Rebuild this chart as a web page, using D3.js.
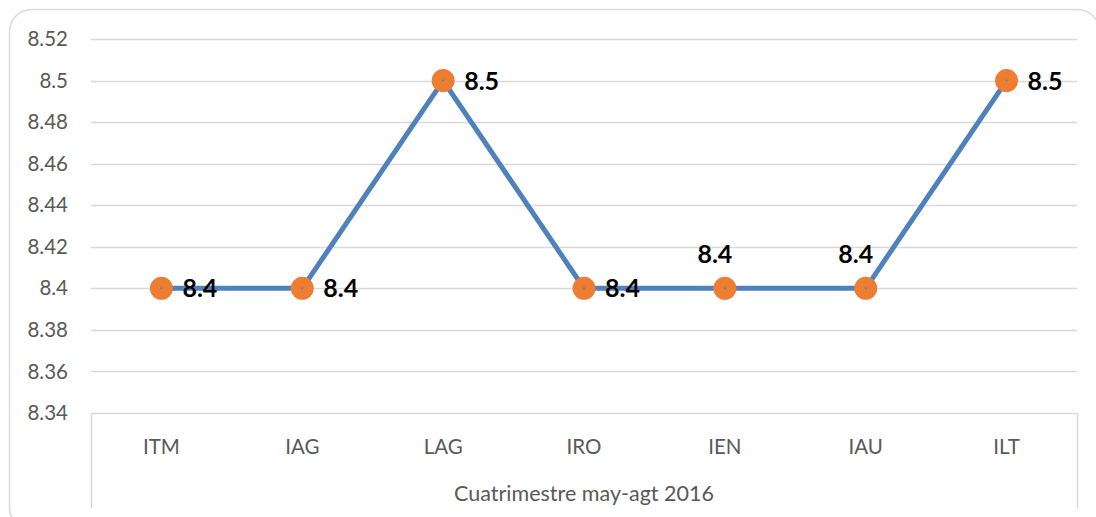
<!DOCTYPE html>
<html>
<head>
<meta charset="utf-8">
<script src="https://cdn.jsdelivr.net/npm/d3@7"></script>
<style>
  body { margin: 0; background: #fff; }
  text { font-family: Lato, "Open Sans", sans-serif; }
</style>
</head>
<body>
<script>
// Chart data
var categories = ["ITM", "IAG", "LAG", "IRO", "IEN", "IAU", "ILT"];
var values = [8.4, 8.4, 8.5, 8.4, 8.4, 8.4, 8.5];
var labelAbove = [false, false, false, false, true, true, false];
var yTicks = [8.34, 8.36, 8.38, 8.4, 8.42, 8.44, 8.46, 8.48, 8.5, 8.52];
var groupLabel = "Cuatrimestre may-agt 2016";

var svgWidth = 1096;
var svgHeight = 517;

var chartMargin = { top: 39, right: 19, bottom: 104, left: 91 };
var chartWidth = svgWidth - chartMargin.left - chartMargin.right;
var chartHeight = svgHeight - chartMargin.top - chartMargin.bottom;

var svg = d3.select("body")
  .append("svg")
  .attr("width", svgWidth)
  .attr("height", svgHeight);

// outer frame
svg.append("rect")
  .attr("x", 9.5).attr("y", 9.5)
  .attr("width", 1090).attr("height", 520)
  .attr("rx", 22).attr("ry", 22)
  .attr("fill", "none")
  .attr("stroke", "#d9d9d9")
  .attr("stroke-width", 1.5);

var chartGroup = svg.append("g")
  .attr("transform", `translate(${chartMargin.left}, ${chartMargin.top})`);

var xBand = d3.scaleBand()
  .domain(categories)
  .range([0, chartWidth]);

var yLinearScale = d3.scaleLinear()
  .domain([8.34, 8.52])
  .range([chartHeight, 0]);

// gridlines
chartGroup.selectAll(".grid")
  .data(yTicks.slice(1))
  .enter()
  .append("line")
  .attr("x1", 0)
  .attr("x2", chartWidth)
  .attr("y1", d => Math.round(yLinearScale(d)) + 0.5)
  .attr("y2", d => Math.round(yLinearScale(d)) + 0.5)
  .attr("stroke", "#d9d9d9")
  .attr("stroke-width", 1.5);

// left axis labels
var leftAxis = d3.axisLeft(yLinearScale)
  .tickValues(yTicks)
  .tickSize(0)
  .tickPadding(23)
  .tickFormat(d3.format("~g"));

chartGroup.append("g")
  .attr("class", "leftAxis")
  .call(leftAxis)
  .call(g => g.select(".domain").remove())
  .call(g => g.selectAll("text")
    .attr("font-size", "20.5px")
    .attr("fill", "#595959")
    .style("font-family", "Lato, 'Open Sans', sans-serif"));

// bottom axis (multi-level style box)
var axisBottomY = Math.round(chartHeight) + 0.5;
chartGroup.append("line")
  .attr("x1", 0).attr("x2", chartWidth)
  .attr("y1", axisBottomY).attr("y2", axisBottomY)
  .attr("stroke", "#d9d9d9").attr("stroke-width", 1.5);

[0, chartWidth].forEach(function (x) {
  chartGroup.append("line")
    .attr("x1", x + 0.5).attr("x2", x + 0.5)
    .attr("y1", axisBottomY).attr("y2", axisBottomY + 95)
    .attr("stroke", "#d9d9d9").attr("stroke-width", 1.5);
});

chartGroup.selectAll(".catLabel")
  .data(categories)
  .enter()
  .append("text")
  .attr("class", "catLabel")
  .attr("x", d => xBand(d) + xBand.bandwidth() / 2)
  .attr("y", axisBottomY + 40)
  .attr("text-anchor", "middle")
  .attr("font-size", "20.5px")
  .attr("fill", "#595959")
  .text(d => d);

chartGroup.append("text")
  .attr("x", chartWidth / 2)
  .attr("y", axisBottomY + 87)
  .attr("text-anchor", "middle")
  .attr("font-size", "21.5px")
  .attr("fill", "#595959")
  .text(groupLabel);

// line
var line = d3.line()
  .x((d, i) => xBand(categories[i]) + xBand.bandwidth() / 2)
  .y(d => yLinearScale(d));

chartGroup.append("path")
  .datum(values)
  .attr("d", line)
  .attr("fill", "none")
  .attr("stroke", "#4f81bd")
  .attr("stroke-width", 5)
  .attr("stroke-linejoin", "round");

// markers
chartGroup.selectAll(".marker")
  .data(values)
  .enter()
  .append("circle")
  .attr("class", "marker")
  .attr("cx", (d, i) => xBand(categories[i]) + xBand.bandwidth() / 2)
  .attr("cy", d => yLinearScale(d))
  .attr("r", 11.5)
  .attr("fill", "#ed7d31");

chartGroup.selectAll(".dot")
  .data(values)
  .enter()
  .append("circle")
  .attr("cx", (d, i) => xBand(categories[i]) + xBand.bandwidth() / 2)
  .attr("cy", d => yLinearScale(d))
  .attr("r", 1)
  .attr("fill", "#4f81bd");

// data labels
chartGroup.selectAll(".valLabel")
  .data(values)
  .enter()
  .append("text")
  .attr("class", "valLabel")
  .attr("x", (d, i) => xBand(categories[i]) + xBand.bandwidth() / 2 + (labelAbove[i] ? -10 : 21))
  .attr("y", (d, i) => yLinearScale(d) + (labelAbove[i] ? -25 : 9))
  .attr("text-anchor", (d, i) => labelAbove[i] ? "middle" : "start")
  .attr("font-size", "25px")
  .attr("font-weight", "bold")
  .attr("fill", "#000")
  .text(d => d3.format(".1f")(d));
</script>
</body>
</html>
